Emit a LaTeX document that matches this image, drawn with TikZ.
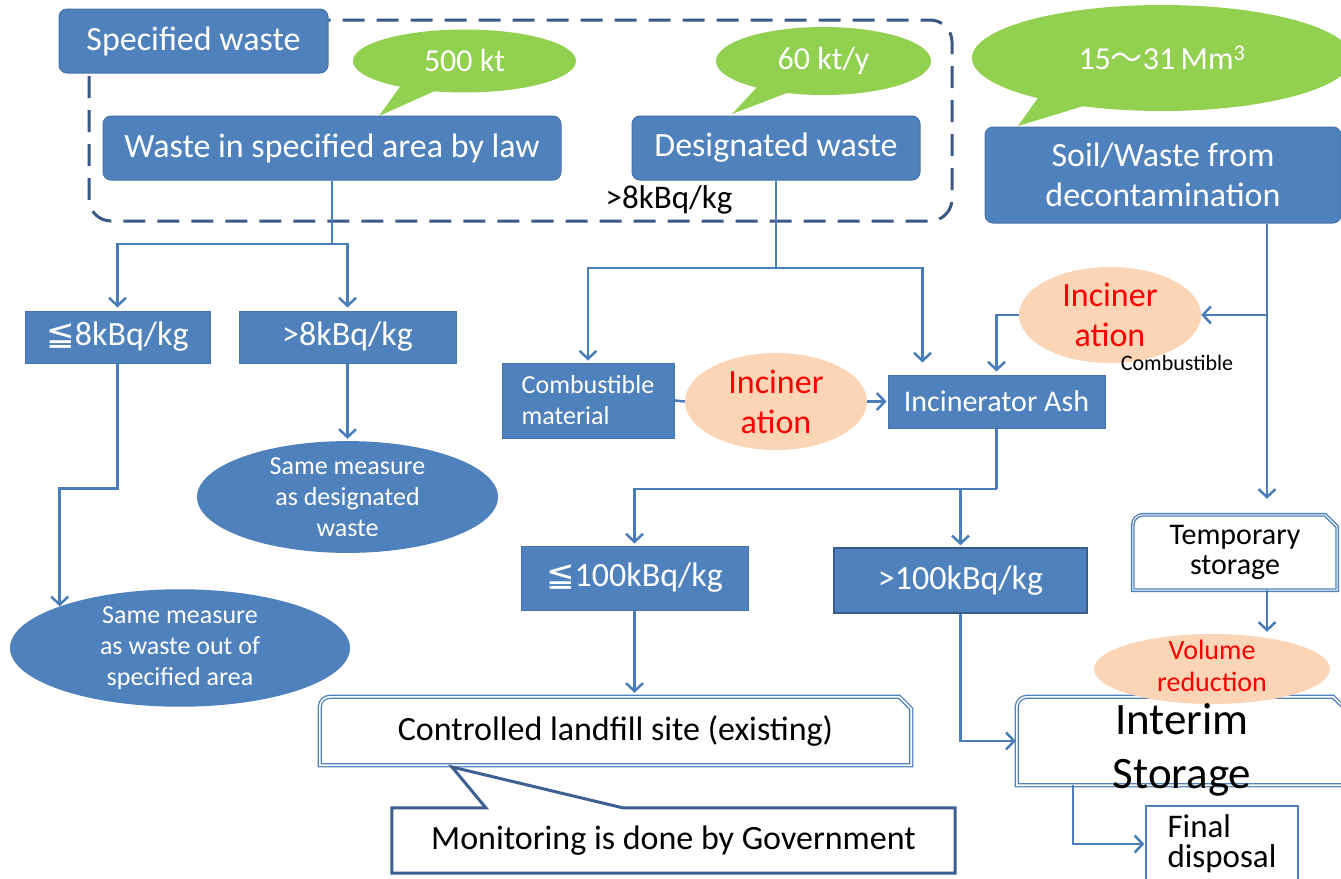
\documentclass[tikz,border=0pt]{standalone}
\usepackage{fontspec}
\setmainfont{Carlito}
\newfontfamily\symf{DejaVu Sans}
\newfontfamily\cjkf{Noto Sans CJK JP}
\usetikzlibrary{arrows.meta,shapes.geometric,calc}
\definecolor{boxblue}{RGB}{79,129,189}
\definecolor{boxedge}{RGB}{70,116,172}
\definecolor{darkedge}{RGB}{56,93,138}
\definecolor{linec}{RGB}{74,126,187}
\definecolor{dashc}{RGB}{59,89,133}
\definecolor{callgreen}{RGB}{146,208,80}
\definecolor{peach}{RGB}{251,213,181}
\definecolor{monedge}{RGB}{60,96,145}
\newcommand\fsz[2]{\fontsize{#1}{#2}\selectfont}
\newcommand\leqq{{\symf ≦}}
\newcommand\snipframe[2][]{%
  \draw[#1] (#2.south west) -- ([yshift=-10pt]#2.north west)
    arc[start angle=180,end angle=90,radius=10pt]
    -- ([xshift=-12pt]#2.north east) -- ([yshift=-12pt]#2.north east)
    -- (#2.south east) -- cycle;}
\tikzset{
  bbox/.style={fill=boxblue, draw=boxedge, line width=1pt, text=white,
    inner sep=0pt, align=center, font=\fsz{34}{40}},
  rbox/.style={bbox, rounded corners=8pt},
  greencall/.style={ellipse, fill=callgreen, text=white, inner sep=0pt,
    font=\fsz{32}{38}},
  peachell/.style={ellipse, fill=peach, text=red, inner sep=0pt,
    align=center, font=\fsz{34}{40}},
  blueell/.style={ellipse, fill=boxblue, text=white, inner sep=0pt,
    align=center, font=\fsz{26}{31}},
  whitebox/.style={fill=white, inner sep=0pt, align=center, text=black,
    font=\fsz{34}{40}},
  dblframe/.style={draw=boxblue, double=white, double distance=1.6pt,
    line width=1.3pt},
  conn/.style={draw=linec, line width=2.5pt},
  arr/.style={conn, -{Straight Barb[length=8pt,width=17pt,line width=2.5pt]}},
}
\begin{document}
\begin{tikzpicture}[x=1pt,y=-1pt]
\useasboundingbox (0,0) rectangle (1341,878);
\fill[white] (0,0) rectangle (1341,878);

% dashed group frame
\draw[dashc, line width=3pt, dash pattern=on 22pt off 12pt, rounded corners=22pt]
  (89,20) rectangle (952,221);

% top boxes
\node[rbox, minimum width=269pt, minimum height=64pt] (sw) at (193.5,41) {Specified waste};
\node[rbox, minimum width=458pt, minimum height=64pt] (wsa) at (332,148) {Waste in specified area by law};
\node[rbox, minimum width=288pt, minimum height=64pt] (dw) at (776,148) {Designated waste};
\node[rbox, minimum width=356pt, minimum height=96pt] (soil) at (1163,175) {Soil/Waste from\\decontamination};

% callouts
\coordinate (t500) at (379,116);
\fill[callgreen] (t500) -- (402,84) -- (446,86) -- cycle;
\node[greencall, minimum width=223pt, minimum height=63pt] (c500) at (464.5,61) {500 kt};
\coordinate (t60) at (732,114);
\fill[callgreen] (t60) -- (760,84) -- (800,88) -- cycle;
\node[greencall, minimum width=215pt, minimum height=68pt] (c60) at (823.5,61) {60 kt/y};
\coordinate (tbig) at (1018,126);
\fill[callgreen] (tbig) -- (1040,95) -- (1090,104) -- cycle;
\node[greencall, minimum width=380pt, minimum height=106pt] (cbig) at (1162,58) {15{\cjkf ～}31\,Mm\textsuperscript{3}};

\node[text=black, inner sep=0pt, font=\fsz{33}{38}] (gt8t) at (669,200) {>8kBq/kg};

% left branch
\node[bbox, minimum width=185pt, minimum height=52pt] (le8) at (117.5,337) {\leqq8kBq/kg};
\node[bbox, minimum width=217pt, minimum height=52pt] (gt8) at (347.5,337) {>8kBq/kg};
\node[blueell, minimum width=301pt, minimum height=95pt] (sm1) at (347.5,497) {Same measure\\as designated\\waste};
\node[blueell, minimum width=340pt, minimum height=93pt] (sm2) at (180,648) {Same measure\\as waste out of\\specified area};

% middle
\node[bbox, minimum width=172pt, minimum height=75pt, align=left, font=\fsz{26}{31}] (cm) at (588,400.5) {Combustible\\material};
\node[peachell, minimum width=182pt, minimum height=97pt] (inc1) at (776,401.5) {Inciner\\ation};
\node[bbox, minimum width=217pt, minimum height=53pt, font=\fsz{30}{36}] (ash) at (996.5,401.5) {Incinerator Ash};
\node[peachell, minimum width=182pt, minimum height=96pt] (inc2) at (1110,315) {Inciner\\ation};
\node[text=black, inner sep=0pt, font=\fsz{22}{26}] (combs) at (1177,363) {Combustible};

\node[bbox, minimum width=227pt, minimum height=64pt] (le100) at (634.5,578) {\leqq100kBq/kg};
\node[bbox, draw=darkedge, line width=1.5pt, minimum width=253pt, minimum height=65pt] (gt100) at (960.5,580.5) {>100kBq/kg};

% landfill and monitoring
\node[whitebox, minimum width=591pt, minimum height=68pt] (land) at (615.5,731) {Controlled landfill site (existing)};
\snipframe[dblframe]{land}
\node[whitebox, minimum width=563pt, minimum height=65pt] (mon) at (673.5,840.5) {};
\coordinate (montip) at (452,767);
\draw[monedge, line width=3pt, fill=white, line join=miter]
  (mon.north west) -- ([xshift=94pt]mon.north west) -- (montip)
  -- ([xshift=231pt]mon.north west) -- (mon.north east) -- (mon.south east)
  -- (mon.south west) -- cycle;
\node[text=black, inner sep=0pt, font=\fsz{34}{40}] (mont) at (mon.center) {Monitoring is done by Government};

% right column
\node[whitebox, minimum width=204pt, minimum height=75pt, font=\fsz{30}{30}] (temp) at (1235,552.5) {Temporary\\storage};
\snipframe[draw=boxblue, double=white, double distance=1pt, line width=1.4pt]{temp}
\node[whitebox, minimum width=328pt, minimum height=88pt] (interim) at (1181,741) {};
\snipframe[dblframe]{interim}
\node[peachell, minimum width=236pt, minimum height=70pt, font=\fsz{28}{32}] (volred) at (1212,669) {};
\node[text=red, inner sep=0pt, align=center, font=\fsz{28}{32}] (volredt) at (1212,666) {Volume\\reduction};
\node[text=black, inner sep=0pt, align=center, font=\fsz{45}{54}] (interimt) at (1182,750) {Interim\\Storage};
\node[whitebox, draw=boxblue, line width=1.3pt, minimum width=152pt, minimum height=76pt, align=left, font=\fsz{33}{30}] (final) at (1222,844) {Final\\disposal};

% connectors
\coordinate (j1) at (332,244);
\draw[conn] (wsa.south) -- (j1);
\draw[arr, shorten >=3pt] (j1) -| (le8.north);
\draw[arr, shorten >=3pt] (j1) -| (gt8.north);
\draw[arr, shorten >=2pt] (gt8.south) -- (sm1.north);
\draw[arr] (le8.south) -- ++(0,125) -| (sm2.north west);

\coordinate (j2) at (776,268);
\draw[conn] (dw.south) -- (j2);
\draw[arr, shorten >=2pt] (j2) -| (cm.north);
\draw[arr, shorten >=12pt] (j2) -| ([xshift=-74pt]ash.north);
\draw[conn] (cm.east) -- (inc1.west);
\draw[arr, shorten >=1pt] (inc1.east) -- (ash.west);

\coordinate (s1) at ([xshift=104pt]soil.south);
\coordinate (j3) at (s1 |- inc2.east);
\draw[arr, shorten >=16pt] (s1) -- (temp.north -| s1);
\draw[arr] (j3) -- (inc2.east);
\draw[arr, shorten >=3pt] (inc2.west) -| (ash.north);

\coordinate (j4) at (996.5,489);
\draw[conn] (ash.south) -- (j4);
\draw[arr, shorten >=2pt] (j4) -| (le100.north);
\draw[arr, shorten >=2pt] (j4) -| (gt100.north);
\draw[arr, shorten >=4pt] (le100.south) -- (le100.south |- land.north);
\draw[arr, shorten >=1pt] (gt100.south) |- (interim.west);
\draw[arr, shorten >=1pt] ([xshift=-108pt]interim.south) |- (final.west);
\draw[arr, shorten >=2pt] (temp.south -| s1) -- (volred.north -| s1);
\end{tikzpicture}
\end{document}
